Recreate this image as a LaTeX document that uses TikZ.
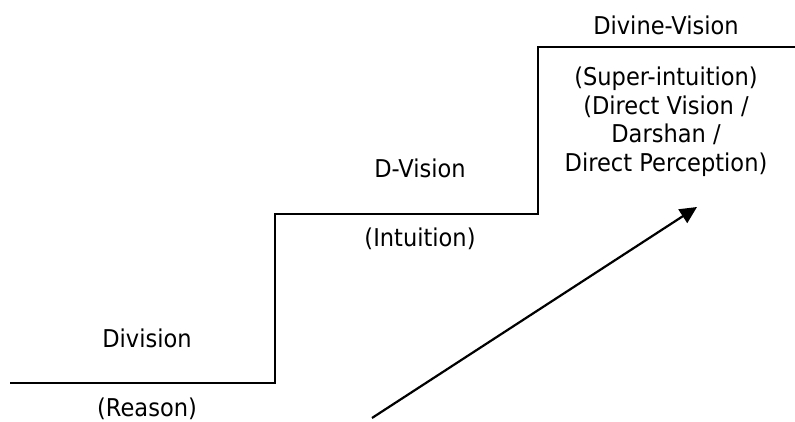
\documentclass[tikz,border=0pt]{standalone}
\usepackage{fontspec}
\setmainfont{DejaVu Sans}[FakeStretch=0.92]
\usetikzlibrary{arrows.meta}
\begin{document}
\begin{tikzpicture}[x=1pt,y=1pt,
  lbl/.style={anchor=base,inner sep=0pt,font=\fontsize{24.5}{28}\selectfont},
  stair/.style={line width=2.2pt},
  arr/.style={line width=2.2pt,-{Triangle[length=17pt,width=16pt]}}]
\useasboundingbox (0,0) rectangle (795,422);
\draw[stair] (10,39) -- (275,39) -- (275,208) -- (538,208) -- (538,375) -- (795,375);
\node[lbl] (div) at (147,74) {Division};
\node[lbl] (reason) at (147,5) {(Reason)};
\node[lbl] (dvis) at (420,244) {D-Vision};
\node[lbl] (intu) at (420,175) {(Intuition)};
\node[lbl] (divine) at (666,387) {Divine-Vision};
\node[lbl] (l1) at (666,336) {(Super-intuition)};
\node[lbl] (l2) at (666,307) {(Direct Vision /};
\node[lbl] (l3) at (666,279) {Darshan /};
\node[lbl] (l4) at (666,250) {Direct Perception)};
\coordinate (a0) at (372,4);
\coordinate (a1) at (697,215);
\draw[arr] (a0) -- (a1);
\end{tikzpicture}
\end{document}
